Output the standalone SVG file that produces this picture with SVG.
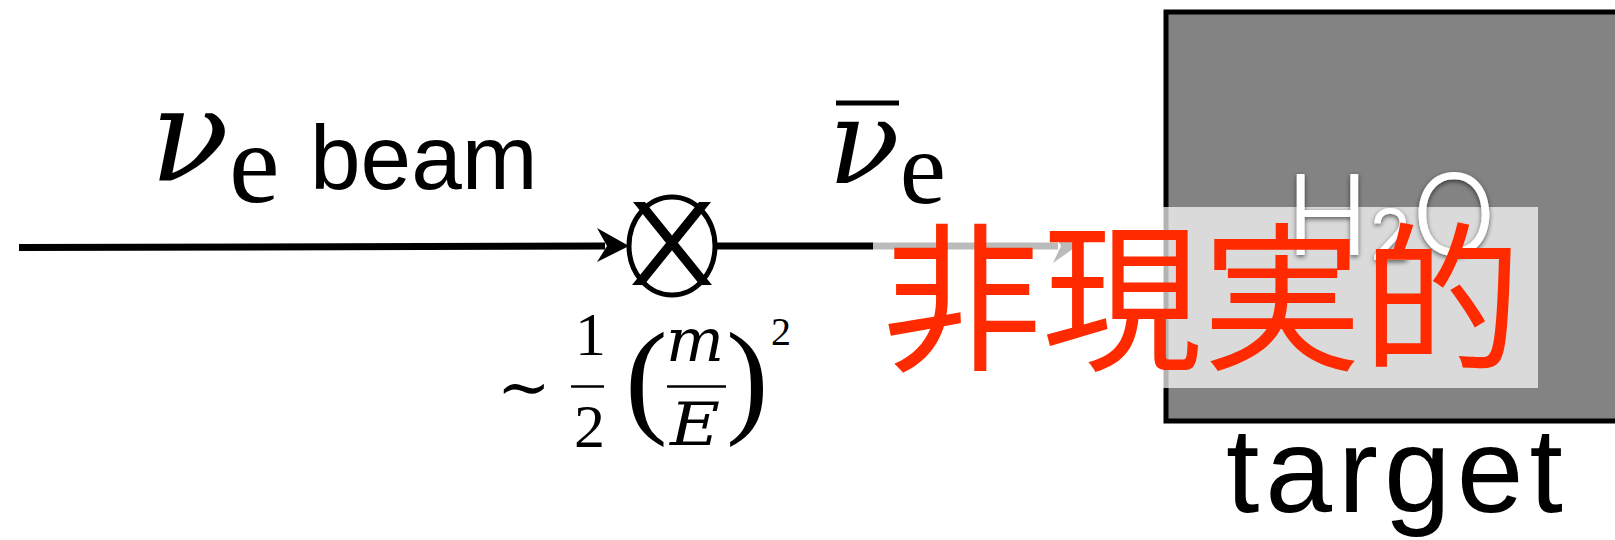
<svg xmlns="http://www.w3.org/2000/svg" width="1615" height="540" viewBox="0 0 1615 540">
<style>
.serif{font-family:"Liberation Serif","DejaVu Serif",serif;fill:#000}
.dv{font-family:"DejaVu Serif",serif;font-style:italic;fill:#000}
.sans{font-family:"Liberation Sans",Arial,sans-serif;fill:#000}
.thin{font-family:Inter,Lato,"Open Sans","Liberation Sans",sans-serif;font-weight:300;fill:#fff}
.cjk{font-family:"Liberation Sans","Noto Sans CJK JP",sans-serif;fill:#ff2a00}
</style>
<defs>
<filter id="sh" x="-20%" y="-20%" width="140%" height="140%">
<feDropShadow dx="0" dy="2" stdDeviation="2.5" flood-color="#000" flood-opacity="0.6"/>
</filter>
</defs>
<rect width="1615" height="540" fill="#fff"/>
<g id="target">
<rect x="1166" y="12" width="460" height="409" fill="#838383" stroke="#000" stroke-width="5"/>
<rect x="1163" y="207" width="375" height="181" fill="#fff" fill-opacity="0.7"/>
<text class="thin" filter="url(#sh)" x="1286" y="255" font-size="112">H<tspan font-size="70" font-weight="400" dy="5">2</tspan><tspan dy="-5">O</tspan></text>
<text class="sans" x="1226" y="512" font-size="120" letter-spacing="6">target</text>
</g>
<g id="connectors">
<path d="M19 247.5 L605 246" stroke="#000" stroke-width="7" fill="none"/>
<path d="M629 246 L597 228 L607 246 L597 262 Z" fill="#000"/>
<path d="M716 246 L873 246" stroke="#000" stroke-width="7" fill="none"/>
<path d="M873 246 L1058 246" stroke="#bbb" stroke-width="7" fill="none"/>
<path d="M1077 246 L1053 230 L1061 246 L1053 263 Z" fill="#bbb"/>
</g>
<g id="mixing">
<ellipse cx="672" cy="246" rx="43" ry="49" fill="#fff" stroke="#000" stroke-width="5"/>
<path d="M633 202 L645 202 L712 285 L700 285 Z M699 202 L711 202 L644 285 L632 285 Z" fill="#000"/>
</g>
<g id="labels">
<text x="150" y="180"><tspan class="dv" font-size="130">ν</tspan><tspan class="serif" font-size="114" dy="22">e</tspan></text>
<text class="sans" x="310" y="189" font-size="91">beam</text>
<line x1="836" y1="103" x2="899" y2="103" stroke="#000" stroke-width="5"/>
<text x="828" y="183"><tspan class="dv" font-size="118">ν</tspan><tspan class="serif" font-size="104" dy="20">e</tspan></text>
<text class="serif" x="497" y="409" font-size="64">∼</text>
<text class="serif" x="575" y="355" font-size="62">1</text>
<line x1="571" y1="386.5" x2="604" y2="386.5" stroke="#000" stroke-width="2.5"/>
<text class="serif" x="574" y="447" font-size="62">2</text>
<text class="serif" x="625" y="420" font-size="128">(</text>
<text class="dv" x="666" y="361" font-size="60" textLength="58" lengthAdjust="spacingAndGlyphs">m</text>
<line x1="667" y1="386.5" x2="726" y2="386.5" stroke="#000" stroke-width="2.5"/>
<text class="dv" x="670" y="445" font-size="60" textLength="50" lengthAdjust="spacingAndGlyphs">E</text>
<text class="serif" x="726" y="420" font-size="128">)</text>
<text class="serif" x="771" y="345" font-size="40">2</text>
</g>
<g id="overlay">
<text class="cjk" x="882" y="358" font-size="160">非現実的</text>
</g>
</svg>
